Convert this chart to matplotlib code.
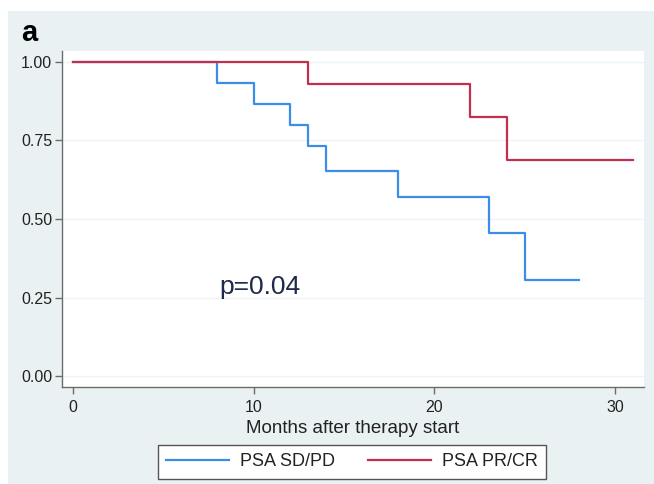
import matplotlib
matplotlib.use("Agg")
import matplotlib.pyplot as plt
from matplotlib.patches import Rectangle

plt.rcParams['font.family'] = ['Liberation Sans', 'DejaVu Sans']

# Kaplan-Meier steps
sdpd_t = [0, 8, 10, 12, 13, 14, 18, 23, 25, 28]
sdpd_s = [1.0, 0.933, 0.867, 0.80, 0.733, 0.652, 0.570, 0.457, 0.305, 0.305]
prcr_t = [0, 13, 22, 24, 31]
prcr_s = [1.0, 0.929, 0.825, 0.688, 0.688]

xticks = [0, 10, 20, 30]
yticks = [0.0, 0.25, 0.5, 0.75, 1.0]

W, H = 654, 484
fig = plt.figure(figsize=(W / 100, H / 100), dpi=100, facecolor='white')

# grey outer panel (Stata style)
fig.patches.append(Rectangle((8 / W, 0), 1 - 8 / W, 1 - 11 / H, transform=fig.transFigure,
                             facecolor='#eaf1f3', edgecolor='none', zorder=-5))

ax = fig.add_axes([62 / W, (H - 387) / H, (644 - 62) / W, (387 - 51) / H])
ax.set_facecolor('white')

blue = '#3b8ee8'
red = '#c2304d'
ax.step(sdpd_t, sdpd_s, where='post', color=blue, lw=1.6, label='PSA SD/PD')
ax.step(prcr_t, prcr_s, where='post', color=red, lw=1.6, label='PSA PR/CR')

ax.set_xlim(-0.6, 31.6)
ax.set_ylim(-0.035, 1.035)
ax.set_xticks(xticks)
ax.set_yticks(yticks)
ax.set_yticklabels(['%.2f' % v for v in yticks])
ax.grid(axis='y', color='#eef3f6', lw=1.0)
ax.set_axisbelow(True)

for s in ['top', 'right']:
    ax.spines[s].set_visible(False)
for s in ['left', 'bottom']:
    ax.spines[s].set_color('#6b6b6b')
    ax.spines[s].set_linewidth(1.0)
ax.tick_params(direction='out', length=5, width=1, color='#6b6b6b',
               labelsize=11.5, labelcolor='#222222', pad=2)
ax.tick_params(axis='x', pad=4)

ax.set_xlabel('Months after therapy start', fontsize=13.5, color='#222222', labelpad=4)

ax.text(8.1, 0.285, 'p=0.04', fontsize=19, color='#1f2a4a', va='center')

fig.text(21 / W, 1 - 33 / H, 'a', fontsize=21, fontweight='bold', va='center', color='black')

leg = fig.legend(loc='center', bbox_to_anchor=(352 / W, 1 - 462 / H), ncol=2,
                 frameon=True, fancybox=False, fontsize=13, handlelength=3.5,
                 columnspacing=1.8, borderpad=0.45, handletextpad=0.6,
                 borderaxespad=0)
fr = leg.get_frame()
fr.set_edgecolor('#555555')
fr.set_facecolor('white')
fr.set_alpha(1)
fr.set_linewidth(1.0)
for t in leg.get_texts():
    t.set_color('#222222')

fig.savefig('out.png', dpi=100, facecolor='white')
